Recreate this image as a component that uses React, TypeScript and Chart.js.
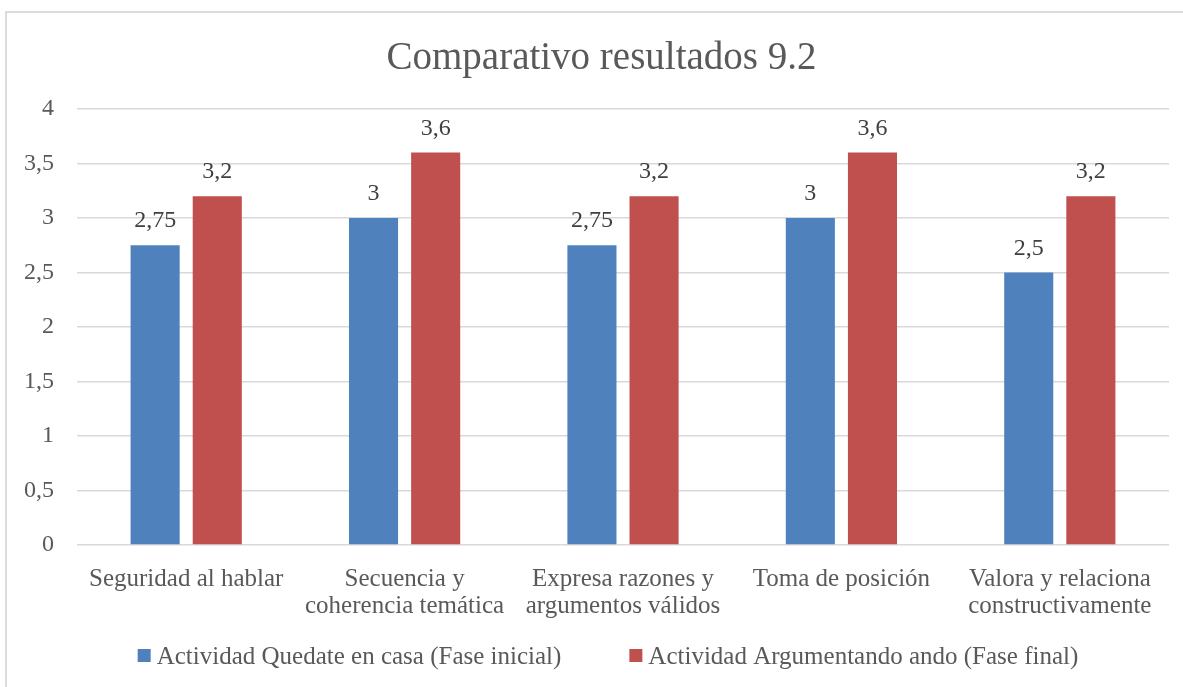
import React, { useEffect, useRef } from "react";
import { Chart, registerables } from "chart.js";

Chart.register(...registerables);

const FONT = '"Liberation Serif", "Times New Roman", serif';

const titleText = "Comparativo resultados 9.2";
const categories: string[][] = [
  ["Seguridad al hablar"],
  ["Secuencia y", "coherencia temática"],
  ["Expresa razones y", "argumentos válidos"],
  ["Toma de posición"],
  ["Valora y relaciona", "constructivamente"],
];
const seriesNames = [
  "Actividad Quedate en casa (Fase inicial)",
  "Actividad Argumentando ando (Fase final)",
];
const faseInicial = [2.75, 3, 2.75, 3, 2.5];
const faseFinal = [3.2, 3.6, 3.2, 3.6, 3.2];
const seriesColors = ["#4F81BD", "#C0504D"];
const yMin = 0;
const yMax = 4;
const yStep = 0.5;

const fmt = (v: number) => String(v).replace(".", ",");

const decorPlugin = {
  id: "decor",
  afterDatasetsDraw(chart: any) {
    const ctx = chart.ctx;
    ctx.save();
    ctx.font = `24px ${FONT}`;
    ctx.fillStyle = "#404040";
    ctx.textAlign = "center";
    ctx.textBaseline = "alphabetic";
    chart.data.datasets.forEach((ds: any, i: number) => {
      const meta = chart.getDatasetMeta(i);
      meta.data.forEach((el: any, j: number) => {
        ctx.fillText(fmt(ds.data[j]), el.x, el.y - 18);
      });
    });
    ctx.restore();
  },
  afterDraw(chart: any) {
    const ctx = chart.ctx;
    ctx.save();
    // title
    ctx.font = `39px ${FONT}`;
    ctx.fillStyle = "#595959";
    ctx.textAlign = "center";
    ctx.textBaseline = "alphabetic";
    ctx.fillText(titleText, 601.5, 69);
    // legend
    ctx.font = `25px ${FONT}`;
    ctx.textAlign = "left";
    const box = 13;
    const gapBoxText = 6;
    const gapItems = 68;
    const items = chart.data.datasets.map((ds: any) => ({
      text: ds.label,
      color: ds.backgroundColor,
      w: box + gapBoxText + ctx.measureText(ds.label).width,
    }));
    const total = items.reduce((s: number, it: any) => s + it.w, 0) + gapItems * (items.length - 1);
    let x = 608 - total / 2;
    items.forEach((it: any) => {
      ctx.fillStyle = it.color;
      ctx.fillRect(x, 649, box, box);
      ctx.fillStyle = "#595959";
      ctx.fillText(it.text, x + box + gapBoxText, 664);
      x += it.w + gapItems;
    });
    ctx.restore();
  },
};

function BarChart() {
  const ref = useRef<HTMLCanvasElement | null>(null);
  useEffect(() => {
    if (!ref.current) return;
    const chart = new Chart(ref.current, {
      type: "bar",
      data: {
        labels: categories,
        datasets: [
          {
            label: seriesNames[0],
            data: faseInicial,
            backgroundColor: seriesColors[0],
            categoryPercentage: 0.569,
            barPercentage: 0.79,
          },
          {
            label: seriesNames[1],
            data: faseFinal,
            backgroundColor: seriesColors[1],
            categoryPercentage: 0.569,
            barPercentage: 0.79,
          },
        ],
      },
      options: {
        animation: false,
        responsive: false,
        maintainAspectRatio: false,
        layout: { padding: { top: 109, bottom: 54, left: 0, right: 14 } },
        plugins: {
          legend: { display: false },
          title: { display: false },
          tooltip: { enabled: false },
        },
        scales: {
          x: {
            grid: { display: false },
            border: { display: false },
            ticks: {
              color: "#595959",
              font: { family: FONT, size: 25, lineHeight: 27 / 25 },
              padding: 13,
              maxRotation: 0,
              autoSkip: false,
            },
          },
          y: {
            min: yMin,
            max: yMax,
            border: { display: false },
            grid: { color: "#D9D9D9", lineWidth: 1.5, drawTicks: false },
            ticks: {
              stepSize: yStep,
              color: "#595959",
              font: { family: FONT, size: 24 },
              padding: 23,
              callback: (v: any) => fmt(Number(v)),
            },
            afterFit: (scale: any) => {
              scale.width = 77;
            },
          },
        },
      },
      plugins: [decorPlugin],
    });
    return () => chart.destroy();
  }, []);
  return <canvas ref={ref} width={1183} height={687} style={{ display: "block" }} />;
}

export default function App() {
  return (
    <div
      style={{
        position: "fixed",
        left: 0,
        top: 0,
        width: 1183,
        height: 687,
        overflow: "hidden",
        background: "#fff",
      }}
    >
      <div
        style={{
          position: "absolute",
          left: 5,
          top: 11,
          width: 1240,
          height: 740,
          border: "2px solid #DCDCDC",
          boxSizing: "border-box",
        }}
      />
      <div style={{ position: "absolute", left: 0, top: 0 }}>
        <BarChart />
      </div>
    </div>
  );
}
